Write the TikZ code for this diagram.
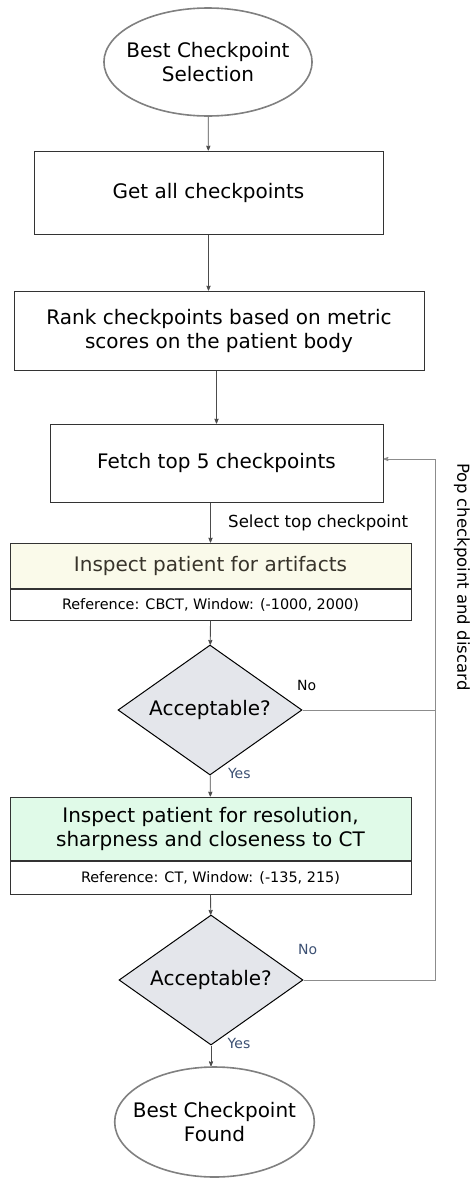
\documentclass[tikz,border=0pt]{standalone}
\usepackage{fontspec}
\setmainfont{DejaVu Sans}
\usepackage{tikz}
\usetikzlibrary{arrows,shapes}
\definecolor{headyellow}{RGB}{250,250,234}
\definecolor{headgreen}{RGB}{224,250,232}
\definecolor{decfill}{RGB}{228,230,235}
\definecolor{answer}{RGB}{60,80,115}

\begin{document}
\begin{tikzpicture}[->,>=stealth',x=1pt,y=-1pt,font=\fontsize{20}{24}\selectfont]
 \tikzstyle{terminal}=[draw=black!50,line width=1.6pt,ellipse,inner sep=0pt,align=center]
 \tikzstyle{process}=[draw=black!80,line width=1pt,rectangle,inner sep=0pt,align=center]
 \tikzstyle{reference}=[process,font=\fontsize{14.4}{17}\selectfont]
 \tikzstyle{decision}=[draw=black,line width=1pt,diamond,aspect=1.5,fill=decfill,inner sep=0pt,minimum width=184pt,minimum height=130pt]
 \tikzstyle{answer}=[font=\fontsize{14}{17}\selectfont,text=answer]
 \tikzstyle{every edge}=[draw=black!70,line width=0.8pt]
 \useasboundingbox (0,0) rectangle (473,1178);

   \node[terminal,inner xsep=-8pt,minimum height=108pt] (start) at (208,62) {Best Checkpoint\\Selection};
   \node[process,minimum width=349pt,minimum height=83pt] (get) at (208.5,192.5) {Get all checkpoints};
   \node[process,minimum width=410pt,minimum height=79pt] (rank) at (219,330.5) {Rank checkpoints based on metric\\scores on the patient body};
   \node[process,minimum width=333pt,minimum height=78pt] (fetch) at (216.5,463) {Fetch top 5 checkpoints};
   \node[process,fill=headyellow,text=black!80!olive,minimum width=401pt,minimum height=45pt] (artifacts) at (210.5,565.5) {Inspect patient for artifacts};
   \node[reference,minimum width=401pt,minimum height=31pt,anchor=north] (cbct) at (artifacts.south) {Reference: CBCT, Window: (-1000, 2000)};
   \node[decision] (check1) at (210,710) {Acceptable?};
   \node[process,fill=headgreen,minimum width=401pt,minimum height=63pt] (quality) at (210.5,828.5) {Inspect patient for resolution,\\sharpness and closeness to CT};
   \node[reference,minimum width=401pt,minimum height=33pt,anchor=north] (ct) at (quality.south) {Reference: CT, Window: (-135, 215)};
   \node[decision] (check2) at (211,980) {Acceptable?};
   \node[terminal,inner xsep=-11pt,minimum height=110pt] (found) at (214.5,1122) {Best Checkpoint\\Found};
   \coordinate (loop) at (435,710);
   \node[rotate=-90,font=\fontsize{16.5}{20}\selectfont] (pop) at (462,577) {Pop checkpoint and discard};

   \path[->]
   (start) edge (get)
   (get) edge (get.south |- rank.north)
   (fetch.north |- rank.south) edge (fetch)
   (artifacts.north |- fetch.south) edge node[right=14pt,font=\fontsize{16.6}{20}\selectfont] {Select top checkpoint} (artifacts)
   (cbct) edge (check1)
   (check1) edge node[answer,pos=0,right,xshift=14pt,yshift=2pt] {Yes} (quality)
   (ct) edge (check2)
   (check2.south) edge node[answer,pos=0,right,xshift=13pt,yshift=2pt] {Yes} (check2.south |- found.north);

   \draw[draw=black!45,line width=0.8pt] (check1.east) -- node[pos=0,above right,xshift=-9pt,yshift=16pt,font=\fontsize{14}{17}\selectfont] {No} (loop) |- ([yshift=4pt]fetch.east);
   \draw[-,draw=black!45,line width=0.8pt] (check2.east) -- node[answer,pos=0,above right,xshift=-9pt,yshift=22pt] {No} (check2.east -| loop) -- (loop);

\end{tikzpicture}
\end{document}
